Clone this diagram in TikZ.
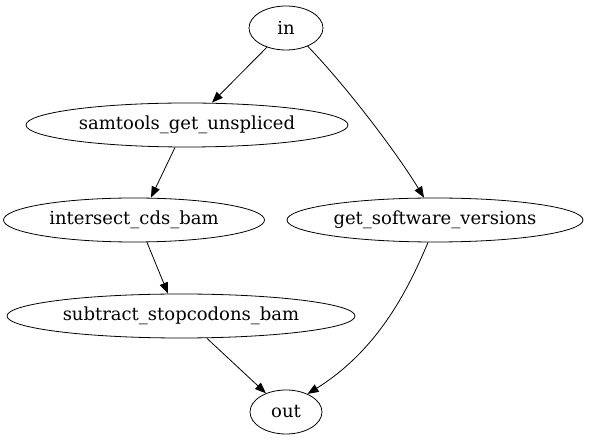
\documentclass[tikz,border=0pt]{standalone}
\usepackage{fontspec}
\setmainfont{DejaVu Serif}
\usetikzlibrary{shapes.geometric,arrows.meta}

\begin{document}
\begin{tikzpicture}[x=1pt,y=-1pt,
    every node/.style={font=\fontsize{18}{21}\selectfont},
    task/.style={draw,ellipse,inner sep=0pt,minimum height=44pt,line width=0.8pt},
    arr/.style={-{Triangle[length=11pt,width=8.5pt]},line width=0.8pt}]
    \useasboundingbox (0,0) rectangle (598,443);
    \node[task,minimum width=74pt]  (in)  at (286,28)  {in};
    \node[task,minimum width=322pt] (sgu) at (187,125) {samtools\_get\_unspliced};
    \node[task,minimum width=261pt] (icb) at (134,220) {intersect\_cds\_bam};
    \node[task,minimum width=296pt] (gsv) at (435,220) {get\_software\_versions};
    \node[task,minimum width=348pt] (ssb) at (181,316) {subtract\_stopcodons\_bam};
    \node[task,minimum width=72pt]  (out) at (286,412) {out};
    \draw[arr] (in) -- (sgu.north -| 212,0);
    \draw[arr] (in.-40) .. controls (345,85) and (395,150) .. (gsv.north -| 424,0);
    \draw[arr] (sgu.south -| 175,0) -- (icb.north -| 151,0);
    \draw[arr] (icb.south -| 147,0) -- (ssb.north -| 168,0);
    \draw[arr] (ssb.south -| 207,0) -- (out);
    \draw[arr] (gsv.south -| 428,0) .. controls (408,290) and (378,350) .. (out.40);
\end{tikzpicture}
\end{document}
